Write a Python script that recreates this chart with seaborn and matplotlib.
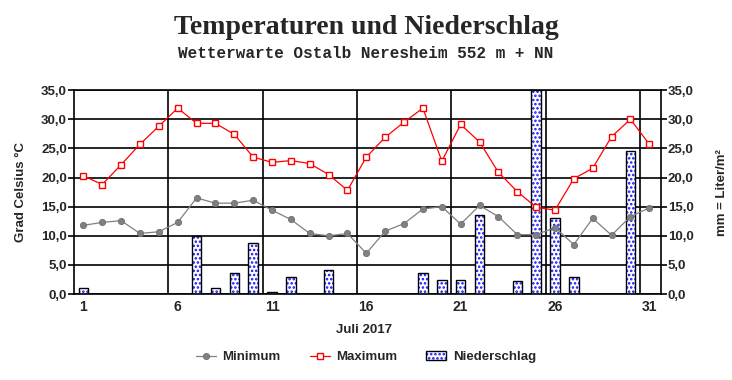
import matplotlib
matplotlib.use("Agg")
import matplotlib.pyplot as plt
from matplotlib.patches import Patch
from matplotlib.ticker import FuncFormatter, FixedLocator
import pandas as pd
import seaborn as sns

# Daily values, Juli 2017
days = list(range(1, 32))
t_min = [11.8, 12.3, 12.6, 10.4, 10.7, 12.3, 16.5, 15.6, 15.6, 16.1,
         14.4, 12.8, 10.4, 10.0, 10.4, 7.0, 10.8, 12.1, 14.6, 15.0,
         12.0, 15.2, 13.3, 10.2, 10.2, 11.4, 8.5, 13.0, 10.1, 13.3, 14.8]
t_max = [20.3, 18.8, 22.2, 25.7, 28.8, 31.9, 29.3, 29.3, 27.4, 23.5,
         22.6, 22.9, 22.4, 20.5, 17.8, 23.5, 26.9, 29.5, 31.9, 22.8,
         29.1, 26.1, 20.9, 17.6, 14.9, 14.4, 19.8, 21.6, 27.0, 30.0, 25.7]
precip = [1.0, 0, 0, 0, 0, 0, 10.0, 1.1, 3.6, 8.7,
          0.3, 3.0, 0, 4.2, 0, 0, 0, 0, 3.7, 2.5,
          2.5, 13.5, 0, 2.2, 35.0, 13.0, 2.9, 0, 0, 24.5, 0]
x_labels = [1, 6, 11, 16, 21, 26, 31]
y_ticks = [0, 5, 10, 15, 20, 25, 30, 35]

df = pd.DataFrame({"Tag": days, "Minimum": t_min, "Maximum": t_max, "Niederschlag": precip})
rain = df[df["Niederschlag"] > 0]

sns.set_style("white")
plt.rcParams["font.family"] = ["Liberation Sans", "DejaVu Sans"]
plt.rcParams["hatch.linewidth"] = 1.2

fig = plt.figure(figsize=(7.32, 3.8), dpi=100)
ax = fig.add_axes([0.101, 0.226, 0.802, 0.537])

# grid
for d in x_labels[1:]:
    ax.axvline(d - 0.5, color="black", lw=1.2, zorder=0)
for v in y_ticks:
    ax.axhline(v, color="black", lw=1.2, zorder=0)

# precipitation bars: blue dots + black outline
sns.barplot(data=rain, x="Tag", y="Niederschlag", native_scale=True, width=0.5,
            color="white", edgecolor="#1010ff", hatch="....", linewidth=0, ax=ax, zorder=2)
sns.barplot(data=rain, x="Tag", y="Niederschlag", native_scale=True, width=0.5,
            fill=False, edgecolor="black", linewidth=1.0, ax=ax, zorder=2)

sns.lineplot(data=df, x="Tag", y="Minimum", color="#808080", lw=0.9, marker="o",
             markersize=4.5, markerfacecolor="#808080", markeredgecolor="#707070",
             markeredgewidth=0.6, ax=ax, zorder=3, label="Minimum")
sns.lineplot(data=df, x="Tag", y="Maximum", color="red", lw=0.9, marker="s",
             markersize=4.5, markerfacecolor="white", markeredgecolor="red",
             markeredgewidth=1.0, ax=ax, zorder=4, label="Maximum")

ax.set_xlim(0.5, 31.62)
ax.set_ylim(0, 35)
ax.set_xlabel("")
ax.set_ylabel("Grad Celsius °C", fontsize=9.5, fontweight="bold", labelpad=10)

comma = FuncFormatter(lambda v, p: f"{v:.1f}".replace(".", ","))
ax.set_yticks(y_ticks)
ax.yaxis.set_major_formatter(comma)
ax.set_xticks(x_labels)
ax.set_xticklabels([str(d) for d in x_labels])
ax.xaxis.set_minor_locator(FixedLocator([d + 0.5 for d in days[:-1]]))
ax.tick_params(axis="x", which="major", length=0, pad=4, labelsize=10)
ax.tick_params(axis="x", which="minor", direction="in", length=4, width=1.2, color="black")
ax.tick_params(axis="y", direction="out", length=4, width=1.2, color="black", pad=1, labelsize=9.5)
ax.tick_params(left=True, bottom=True)
for lab in ax.get_xticklabels() + ax.get_yticklabels():
    lab.set_fontweight("bold")
for s in ax.spines.values():
    s.set_color("black")
    s.set_linewidth(1.2)

ax2 = ax.twinx()
ax2.set_ylim(0, 35)
ax2.set_yticks(y_ticks)
ax2.yaxis.set_major_formatter(comma)
ax2.tick_params(axis="y", direction="out", length=4, width=1.2, color="black", pad=1,
                labelsize=9.5, right=True)
for lab in ax2.get_yticklabels():
    lab.set_fontweight("bold")
ax2.set_ylabel("mm = Liter/m²", fontsize=9.5, fontweight="bold", labelpad=16)
for s in ax2.spines.values():
    s.set_visible(False)

fig.text(0.498, 0.131, "Juli 2017", ha="center", va="center", fontsize=9.5, fontweight="bold")
fig.text(0.5, 0.928, "Temperaturen und Niederschlag", ha="center", va="center",
         fontsize=20, fontweight="bold", family="Liberation Serif")
fig.text(0.5, 0.858, "Wetterwarte Ostalb Neresheim 552 m + NN", ha="center", va="center",
         fontsize=11.5, fontweight="bold", family="Liberation Mono")

handles, labels = ax.get_legend_handles_labels()
rain_handle = (Patch(facecolor="white", edgecolor="#1010ff", hatch="....", linewidth=0),
               Patch(fill=False, edgecolor="black", linewidth=1.0))
fig.legend(handles[:2] + [rain_handle], ["Minimum", "Maximum", "Niederschlag"],
           loc="center", bbox_to_anchor=(0.5, 0.06), ncol=3, frameon=False,
           handlelength=1.5, handletextpad=0.5, columnspacing=2.2,
           prop={"weight": "bold", "size": 9.5})
if ax.get_legend():
    ax.get_legend().remove()

fig.savefig("out.png", dpi=100, facecolor="white")
